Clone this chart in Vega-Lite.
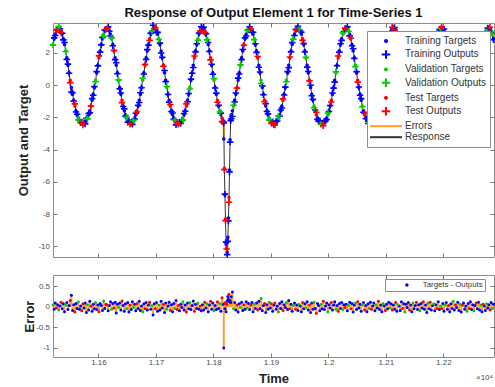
{
  "$schema": "https://vega.github.io/schema/vega-lite/v6.json",
  "padding": {"left": 16, "top": 6, "right": 0, "bottom": 0},
  "config": {
    "font": "Liberation Sans",
    "view": {"stroke": "#8c8c8c", "strokeWidth": 1},
    "axis": {
      "domain": false, "grid": false,
      "tickSize": -4, "tickColor": "#777777", "tickWidth": 1,
      "labelFontSize": 8, "labelColor": "#4d4d4d", "labelPadding": 7.5,
      "titleFontSize": 13, "titleFontWeight": "bold", "titleColor": "#222222", "titleBaseline": "alphabetic"
    }
  },
  "datasets": {
    "ts": [
      {"t":11521,"y":2.53,"o":2.49,"e":0.04,"s":"Va"},
      {"t":11523,"y":2.88,"o":2.94,"e":-0.06,"s":"Tr"},
      {"t":11525,"y":3.17,"o":3.08,"e":0.09,"s":"Tr"},
      {"t":11527,"y":3.38,"o":3.41,"e":-0.03,"s":"Te"},
      {"t":11529,"y":3.52,"o":3.47,"e":0.05,"s":"Tr"},
      {"t":11531,"y":3.56,"o":3.64,"e":-0.08,"s":"Va"},
      {"t":11533,"y":3.52,"o":3.50,"e":0.02,"s":"Tr"},
      {"t":11535,"y":3.38,"o":3.27,"e":0.11,"s":"Te"},
      {"t":11537,"y":3.17,"o":3.22,"e":-0.05,"s":"Tr"},
      {"t":11539,"y":2.88,"o":2.81,"e":0.07,"s":"Tr"},
      {"t":11541,"y":2.53,"o":2.65,"e":-0.12,"s":"Tr"},
      {"t":11543,"y":2.13,"o":2.09,"e":0.04,"s":"Va"},
      {"t":11545,"y":1.70,"o":1.60,"e":0.10,"s":"Tr"},
      {"t":11547,"y":1.24,"o":1.31,"e":-0.07,"s":"Tr"},
      {"t":11549,"y":0.77,"o":0.74,"e":0.03,"s":"Tr"},
      {"t":11551,"y":0.31,"o":0.16,"e":0.15,"s":"Te"},
      {"t":11553,"y":-0.14,"o":-0.42,"e":0.28,"s":"Tr"},
      {"t":11555,"y":-0.56,"o":-0.47,"e":-0.09,"s":"Tr"},
      {"t":11557,"y":-0.94,"o":-0.99,"e":0.05,"s":"Tr"},
      {"t":11559,"y":-1.29,"o":-1.16,"e":-0.13,"s":"Te"},
      {"t":11561,"y":-1.58,"o":-1.66,"e":0.08,"s":"Tr"},
      {"t":11563,"y":-1.84,"o":-1.80,"e":-0.04,"s":"Tr"},
      {"t":11565,"y":-2.04,"o":-2.16,"e":0.12,"s":"Va"},
      {"t":11567,"y":-2.20,"o":-2.14,"e":-0.06,"s":"Tr"},
      {"t":11569,"y":-2.31,"o":-2.33,"e":0.02,"s":"Tr"},
      {"t":11571,"y":-2.38,"o":-2.28,"e":-0.10,"s":"Te"},
      {"t":11573,"y":-2.40,"o":-2.47,"e":0.07,"s":"Te"},
      {"t":11575,"y":-2.38,"o":-2.35,"e":-0.03,"s":"Tr"},
      {"t":11577,"y":-2.31,"o":-2.40,"e":0.09,"s":"Tr"},
      {"t":11579,"y":-2.20,"o":-2.06,"e":-0.14,"s":"Tr"},
      {"t":11581,"y":-2.04,"o":-2.09,"e":0.05,"s":"Va"},
      {"t":11583,"y":-1.84,"o":-1.76,"e":-0.08,"s":"Tr"},
      {"t":11585,"y":-1.58,"o":-1.71,"e":0.13,"s":"Tr"},
      {"t":11587,"y":-1.29,"o":-1.30,"e":0.01,"s":"Te"},
      {"t":11589,"y":-0.94,"o":-0.83,"e":-0.11,"s":"Tr"},
      {"t":11591,"y":-0.56,"o":-0.62,"e":0.06,"s":"Tr"},
      {"t":11593,"y":-0.14,"o":-0.09,"e":-0.05,"s":"Tr"},
      {"t":11595,"y":0.31,"o":0.21,"e":0.10,"s":"Va"},
      {"t":11597,"y":0.77,"o":0.84,"e":-0.07,"s":"Tr"},
      {"t":11599,"y":1.24,"o":1.20,"e":0.04,"s":"Tr"},
      {"t":11601,"y":1.70,"o":1.82,"e":-0.12,"s":"Te"},
      {"t":11603,"y":2.13,"o":2.05,"e":0.08,"s":"Tr"},
      {"t":11605,"y":2.53,"o":2.50,"e":0.03,"s":"Tr"},
      {"t":11607,"y":2.88,"o":2.97,"e":-0.09,"s":"Tr"},
      {"t":11609,"y":3.17,"o":3.03,"e":0.14,"s":"Va"},
      {"t":11611,"y":3.38,"o":3.42,"e":-0.04,"s":"Tr"},
      {"t":11613,"y":3.52,"o":3.46,"e":0.06,"s":"Te"},
      {"t":11615,"y":3.56,"o":3.51,"e":0.05,"s":"Te"},
      {"t":11617,"y":3.52,"o":3.62,"e":-0.10,"s":"Tr"},
      {"t":11619,"y":3.38,"o":3.35,"e":0.03,"s":"Tr"},
      {"t":11621,"y":3.17,"o":3.05,"e":0.12,"s":"Tr"},
      {"t":11623,"y":2.88,"o":2.94,"e":-0.06,"s":"Va"},
      {"t":11625,"y":2.53,"o":2.45,"e":0.08,"s":"Tr"},
      {"t":11627,"y":2.13,"o":2.16,"e":-0.03,"s":"Te"},
      {"t":11629,"y":1.70,"o":1.59,"e":0.11,"s":"Tr"},
      {"t":11631,"y":1.24,"o":1.39,"e":-0.15,"s":"Tr"},
      {"t":11633,"y":0.77,"o":0.71,"e":0.06,"s":"Tr"},
      {"t":11635,"y":0.31,"o":0.33,"e":-0.02,"s":"Va"},
      {"t":11637,"y":-0.14,"o":-0.23,"e":0.09,"s":"Tr"},
      {"t":11639,"y":-0.56,"o":-0.48,"e":-0.08,"s":"Tr"},
      {"t":11641,"y":-0.94,"o":-1.08,"e":0.14,"s":"Te"},
      {"t":11643,"y":-1.29,"o":-1.32,"e":0.03,"s":"Tr"},
      {"t":11645,"y":-1.58,"o":-1.47,"e":-0.11,"s":"Tr"},
      {"t":11647,"y":-1.84,"o":-1.91,"e":0.07,"s":"Tr"},
      {"t":11649,"y":-2.04,"o":-1.99,"e":-0.05,"s":"Va"},
      {"t":11651,"y":-2.20,"o":-2.30,"e":0.10,"s":"Tr"},
      {"t":11653,"y":-2.31,"o":-2.18,"e":-0.13,"s":"Tr"},
      {"t":11655,"y":-2.38,"o":-2.42,"e":0.04,"s":"Te"},
      {"t":11657,"y":-2.38,"o":-2.31,"e":-0.07,"s":"Tr"},
      {"t":11659,"y":-2.31,"o":-2.43,"e":0.12,"s":"Tr"},
      {"t":11661,"y":-2.20,"o":-2.18,"e":-0.02,"s":"Va"},
      {"t":11663,"y":-2.04,"o":-2.10,"e":0.06,"s":"Tr"},
      {"t":11665,"y":-1.84,"o":-1.74,"e":-0.10,"s":"Tr"},
      {"t":11667,"y":-1.58,"o":-1.66,"e":0.08,"s":"Te"},
      {"t":11669,"y":-1.29,"o":-1.25,"e":-0.04,"s":"Tr"},
      {"t":11671,"y":-0.94,"o":-1.07,"e":0.13,"s":"Tr"},
      {"t":11673,"y":-0.56,"o":-0.47,"e":-0.09,"s":"Tr"},
      {"t":11675,"y":-0.14,"o":-0.16,"e":0.02,"s":"Tr"},
      {"t":11677,"y":0.31,"o":0.43,"e":-0.12,"s":"Va"},
      {"t":11679,"y":0.77,"o":0.70,"e":0.07,"s":"Tr"},
      {"t":11681,"y":1.24,"o":1.29,"e":-0.05,"s":"Te"},
      {"t":11683,"y":1.70,"o":1.60,"e":0.10,"s":"Tr"},
      {"t":11685,"y":2.13,"o":2.21,"e":-0.08,"s":"Tr"},
      {"t":11687,"y":2.53,"o":2.49,"e":0.04,"s":"Tr"},
      {"t":11689,"y":2.88,"o":2.77,"e":0.11,"s":"Te"},
      {"t":11691,"y":3.17,"o":3.23,"e":-0.06,"s":"Tr"},
      {"t":11693,"y":3.38,"o":3.35,"e":0.03,"s":"Va"},
      {"t":11695,"y":3.52,"o":3.72,"e":-0.20,"s":"Tr"},
      {"t":11697,"y":3.56,"o":3.49,"e":0.07,"s":"Tr"},
      {"t":11699,"y":3.52,"o":3.57,"e":-0.05,"s":"Te"},
      {"t":11701,"y":3.38,"o":3.28,"e":0.10,"s":"Tr"},
      {"t":11703,"y":3.17,"o":3.28,"e":-0.11,"s":"Tr"},
      {"t":11705,"y":2.88,"o":2.84,"e":0.04,"s":"Va"},
      {"t":11707,"y":2.53,"o":2.61,"e":-0.08,"s":"Tr"},
      {"t":11709,"y":2.13,"o":2.00,"e":0.13,"s":"Tr"},
      {"t":11711,"y":1.70,"o":1.73,"e":-0.03,"s":"Tr"},
      {"t":11713,"y":1.24,"o":1.18,"e":0.06,"s":"Te"},
      {"t":11715,"y":0.77,"o":0.91,"e":-0.14,"s":"Tr"},
      {"t":11717,"y":0.31,"o":0.22,"e":0.09,"s":"Tr"},
      {"t":11719,"y":-0.14,"o":-0.08,"e":-0.06,"s":"Va"},
      {"t":11721,"y":-0.56,"o":-0.58,"e":0.02,"s":"Tr"},
      {"t":11723,"y":-0.94,"o":-1.05,"e":0.11,"s":"Tr"},
      {"t":11725,"y":-1.29,"o":-1.20,"e":-0.09,"s":"Te"},
      {"t":11727,"y":-1.58,"o":-1.63,"e":0.05,"s":"Tr"},
      {"t":11729,"y":-1.84,"o":-1.72,"e":-0.12,"s":"Tr"},
      {"t":11731,"y":-2.04,"o":-2.12,"e":0.08,"s":"Tr"},
      {"t":11733,"y":-2.20,"o":-2.16,"e":-0.04,"s":"Va"},
      {"t":11735,"y":-2.31,"o":-2.46,"e":0.15,"s":"Tr"},
      {"t":11737,"y":-2.38,"o":-2.31,"e":-0.07,"s":"Te"},
      {"t":11739,"y":-2.40,"o":-2.43,"e":0.03,"s":"Te"},
      {"t":11741,"y":-2.38,"o":-2.28,"e":-0.10,"s":"Tr"},
      {"t":11743,"y":-2.31,"o":-2.37,"e":0.06,"s":"Tr"},
      {"t":11745,"y":-2.20,"o":-2.18,"e":-0.02,"s":"Tr"},
      {"t":11747,"y":-2.04,"o":-2.16,"e":0.12,"s":"Va"},
      {"t":11749,"y":-1.84,"o":-1.76,"e":-0.08,"s":"Tr"},
      {"t":11751,"y":-1.58,"o":-1.62,"e":0.04,"s":"Tr"},
      {"t":11753,"y":-1.29,"o":-1.16,"e":-0.13,"s":"Te"},
      {"t":11755,"y":-0.94,"o":-1.03,"e":0.09,"s":"Tr"},
      {"t":11757,"y":-0.56,"o":-0.51,"e":-0.05,"s":"Tr"},
      {"t":11759,"y":-0.14,"o":-0.24,"e":0.10,"s":"Va"},
      {"t":11761,"y":0.31,"o":0.38,"e":-0.07,"s":"Tr"},
      {"t":11763,"y":0.77,"o":0.74,"e":0.03,"s":"Tr"},
      {"t":11765,"y":1.24,"o":1.10,"e":0.14,"s":"Tr"},
      {"t":11767,"y":1.70,"o":1.81,"e":-0.11,"s":"Te"},
      {"t":11769,"y":2.13,"o":2.07,"e":0.06,"s":"Tr"},
      {"t":11771,"y":2.53,"o":2.57,"e":-0.04,"s":"Tr"},
      {"t":11773,"y":2.88,"o":2.79,"e":0.09,"s":"Va"},
      {"t":11775,"y":3.17,"o":3.23,"e":-0.06,"s":"Tr"},
      {"t":11777,"y":3.38,"o":3.36,"e":0.02,"s":"Te"},
      {"t":11779,"y":3.52,"o":3.62,"e":-0.10,"s":"Tr"},
      {"t":11781,"y":3.56,"o":3.51,"e":0.05,"s":"Tr"},
      {"t":11783,"y":3.52,"o":3.60,"e":-0.08,"s":"Tr"},
      {"t":11785,"y":3.38,"o":3.27,"e":0.11,"s":"Te"},
      {"t":11787,"y":3.17,"o":3.20,"e":-0.03,"s":"Tr"},
      {"t":11789,"y":2.88,"o":2.81,"e":0.07,"s":"Va"},
      {"t":11791,"y":2.53,"o":2.65,"e":-0.12,"s":"Tr"},
      {"t":11793,"y":2.13,"o":2.09,"e":0.04,"s":"Tr"},
      {"t":11795,"y":1.70,"o":1.57,"e":0.13,"s":"Te"},
      {"t":11797,"y":1.24,"o":1.30,"e":-0.06,"s":"Tr"},
      {"t":11799,"y":0.77,"o":0.68,"e":0.09,"s":"Tr"},
      {"t":11801,"y":0.31,"o":0.41,"e":-0.10,"s":"Va"},
      {"t":11803,"y":-0.14,"o":-0.17,"e":0.03,"s":"Tr"},
      {"t":11805,"y":-0.56,"o":-0.49,"e":-0.07,"s":"Tr"},
      {"t":11807,"y":-0.94,"o":-1.06,"e":0.12,"s":"Te"},
      {"t":11809,"y":-1.29,"o":-1.25,"e":-0.04,"s":"Tr"},
      {"t":11811,"y":-1.58,"o":-1.66,"e":0.08,"s":"Va"},
      {"t":11813,"y":-1.84,"o":-1.73,"e":-0.11,"s":"Tr"},
      {"t":11815,"y":-2.04,"o":-2.26,"e":0.22,"s":"Te"},
      {"t":11817,"y":-2.20,"o":-2.26,"e":0.06,"s":"Tr"},
      {"t":11818,"y":-3.34,"o":-2.34,"e":-1.00,"s":"Tr"},
      {"t":11819,"y":-5.16,"o":-5.24,"e":0.08,"s":"Te"},
      {"t":11820,"y":-6.81,"o":-6.76,"e":-0.05,"s":"Tr"},
      {"t":11821,"y":-8.30,"o":-8.40,"e":0.10,"s":"Te"},
      {"t":11822,"y":-9.86,"o":-9.74,"e":-0.12,"s":"Tr"},
      {"t":11823,"y":-10.10,"o":-10.16,"e":0.06,"s":"Te"},
      {"t":11824,"y":-10.37,"o":-10.51,"e":0.14,"s":"Tr"},
      {"t":11825,"y":-9.44,"o":-9.69,"e":0.25,"s":"Tr"},
      {"t":11826,"y":-8.24,"o":-8.42,"e":0.18,"s":"Tr"},
      {"t":11827,"y":-6.96,"o":-7.26,"e":0.30,"s":"Te"},
      {"t":11828,"y":-5.26,"o":-5.38,"e":0.12,"s":"Tr"},
      {"t":11829,"y":-3.38,"o":-3.53,"e":0.15,"s":"Tr"},
      {"t":11830,"y":-2.10,"o":-2.20,"e":0.10,"s":"Tr"},
      {"t":11831,"y":-1.84,"o":-2.08,"e":0.24,"s":"Tr"},
      {"t":11833,"y":-1.58,"o":-1.94,"e":0.36,"s":"Tr"},
      {"t":11835,"y":-1.29,"o":-1.24,"e":-0.05,"s":"Va"},
      {"t":11837,"y":-0.94,"o":-1.04,"e":0.10,"s":"Tr"},
      {"t":11839,"y":-0.56,"o":-0.48,"e":-0.08,"s":"Tr"},
      {"t":11841,"y":-0.14,"o":-0.18,"e":0.04,"s":"Te"},
      {"t":11843,"y":0.31,"o":0.44,"e":-0.13,"s":"Tr"},
      {"t":11845,"y":0.77,"o":0.70,"e":0.07,"s":"Tr"},
      {"t":11847,"y":1.24,"o":1.26,"e":-0.02,"s":"Va"},
      {"t":11849,"y":1.70,"o":1.59,"e":0.11,"s":"Tr"},
      {"t":11851,"y":2.13,"o":2.22,"e":-0.09,"s":"Tr"},
      {"t":11853,"y":2.53,"o":2.48,"e":0.05,"s":"Te"},
      {"t":11855,"y":2.88,"o":2.94,"e":-0.06,"s":"Tr"},
      {"t":11857,"y":3.17,"o":3.05,"e":0.12,"s":"Tr"},
      {"t":11859,"y":3.38,"o":3.41,"e":-0.03,"s":"Va"},
      {"t":11861,"y":3.52,"o":3.44,"e":0.08,"s":"Tr"},
      {"t":11863,"y":3.56,"o":3.63,"e":-0.07,"s":"Tr"},
      {"t":11865,"y":3.52,"o":3.48,"e":0.04,"s":"Te"},
      {"t":11867,"y":3.38,"o":3.28,"e":0.10,"s":"Tr"},
      {"t":11869,"y":3.17,"o":3.29,"e":-0.12,"s":"Tr"},
      {"t":11871,"y":2.88,"o":2.82,"e":0.06,"s":"Va"},
      {"t":11873,"y":2.53,"o":2.57,"e":-0.04,"s":"Tr"},
      {"t":11875,"y":2.13,"o":2.04,"e":0.09,"s":"Tr"},
      {"t":11877,"y":1.70,"o":1.78,"e":-0.08,"s":"Te"},
      {"t":11879,"y":1.24,"o":1.11,"e":0.13,"s":"Tr"},
      {"t":11881,"y":0.77,"o":0.82,"e":-0.05,"s":"Tr"},
      {"t":11883,"y":0.31,"o":0.11,"e":0.20,"s":"Va"},
      {"t":11885,"y":-0.14,"o":-0.04,"e":-0.10,"s":"Tr"},
      {"t":11887,"y":-0.56,"o":-0.59,"e":0.03,"s":"Tr"},
      {"t":11889,"y":-0.94,"o":-1.02,"e":0.08,"s":"Te"},
      {"t":11891,"y":-1.29,"o":-1.15,"e":-0.14,"s":"Tr"},
      {"t":11893,"y":-1.58,"o":-1.63,"e":0.05,"s":"Tr"},
      {"t":11895,"y":-1.84,"o":-1.78,"e":-0.06,"s":"Tr"},
      {"t":11897,"y":-2.04,"o":-2.15,"e":0.11,"s":"Va"},
      {"t":11899,"y":-2.20,"o":-2.17,"e":-0.03,"s":"Tr"},
      {"t":11901,"y":-2.31,"o":-2.38,"e":0.07,"s":"Te"},
      {"t":11903,"y":-2.38,"o":-2.27,"e":-0.11,"s":"Tr"},
      {"t":11905,"y":-2.40,"o":-2.44,"e":0.04,"s":"Tr"},
      {"t":11907,"y":-2.38,"o":-2.47,"e":0.09,"s":"Te"},
      {"t":11909,"y":-2.31,"o":-2.25,"e":-0.06,"s":"Tr"},
      {"t":11911,"y":-2.20,"o":-2.22,"e":0.02,"s":"Tr"},
      {"t":11913,"y":-2.04,"o":-1.91,"e":-0.13,"s":"Va"},
      {"t":11915,"y":-1.84,"o":-1.92,"e":0.08,"s":"Tr"},
      {"t":11917,"y":-1.58,"o":-1.54,"e":-0.04,"s":"Tr"},
      {"t":11919,"y":-1.29,"o":-1.41,"e":0.12,"s":"Tr"},
      {"t":11921,"y":-0.94,"o":-0.85,"e":-0.09,"s":"Te"},
      {"t":11923,"y":-0.56,"o":-0.61,"e":0.05,"s":"Tr"},
      {"t":11925,"y":-0.14,"o":-0.12,"e":-0.02,"s":"Tr"},
      {"t":11927,"y":0.31,"o":0.21,"e":0.10,"s":"Va"},
      {"t":11929,"y":0.77,"o":0.84,"e":-0.07,"s":"Tr"},
      {"t":11931,"y":1.24,"o":1.09,"e":0.15,"s":"Tr"},
      {"t":11933,"y":1.70,"o":1.75,"e":-0.05,"s":"Te"},
      {"t":11935,"y":2.13,"o":2.07,"e":0.06,"s":"Tr"},
      {"t":11937,"y":2.53,"o":2.64,"e":-0.11,"s":"Tr"},
      {"t":11939,"y":2.88,"o":2.85,"e":0.03,"s":"Va"},
      {"t":11941,"y":3.17,"o":3.08,"e":0.09,"s":"Tr"},
      {"t":11943,"y":3.38,"o":3.44,"e":-0.06,"s":"Te"},
      {"t":11945,"y":3.52,"o":3.48,"e":0.04,"s":"Tr"},
      {"t":11947,"y":3.56,"o":3.65,"e":-0.09,"s":"Tr"},
      {"t":11949,"y":3.52,"o":3.46,"e":0.06,"s":"Va"},
      {"t":11951,"y":3.38,"o":3.36,"e":0.02,"s":"Tr"},
      {"t":11953,"y":3.17,"o":3.29,"e":-0.12,"s":"Tr"},
      {"t":11955,"y":2.88,"o":2.78,"e":0.10,"s":"Te"},
      {"t":11957,"y":2.53,"o":2.58,"e":-0.05,"s":"Tr"},
      {"t":11959,"y":2.13,"o":2.06,"e":0.07,"s":"Tr"},
      {"t":11961,"y":1.70,"o":1.73,"e":-0.03,"s":"Va"},
      {"t":11963,"y":1.24,"o":1.12,"e":0.12,"s":"Tr"},
      {"t":11965,"y":0.77,"o":0.85,"e":-0.08,"s":"Tr"},
      {"t":11967,"y":0.31,"o":0.27,"e":0.04,"s":"Te"},
      {"t":11969,"y":-0.14,"o":0.00,"e":-0.14,"s":"Tr"},
      {"t":11971,"y":-0.56,"o":-0.65,"e":0.09,"s":"Tr"},
      {"t":11973,"y":-0.94,"o":-0.88,"e":-0.06,"s":"Tr"},
      {"t":11975,"y":-1.29,"o":-1.40,"e":0.11,"s":"Va"},
      {"t":11977,"y":-1.58,"o":-1.54,"e":-0.04,"s":"Tr"},
      {"t":11979,"y":-1.84,"o":-1.68,"e":-0.16,"s":"Te"},
      {"t":11981,"y":-2.04,"o":-2.12,"e":0.08,"s":"Tr"},
      {"t":11983,"y":-2.20,"o":-2.23,"e":0.03,"s":"Tr"},
      {"t":11985,"y":-2.31,"o":-2.21,"e":-0.10,"s":"Tr"},
      {"t":11987,"y":-2.38,"o":-2.44,"e":0.06,"s":"Va"},
      {"t":11989,"y":-2.40,"o":-2.35,"e":-0.05,"s":"Tr"},
      {"t":11991,"y":-2.38,"o":-2.51,"e":0.13,"s":"Te"},
      {"t":11993,"y":-2.31,"o":-2.24,"e":-0.07,"s":"Tr"},
      {"t":11995,"y":-2.20,"o":-2.22,"e":0.02,"s":"Tr"},
      {"t":11997,"y":-2.04,"o":-2.13,"e":0.09,"s":"Tr"},
      {"t":11999,"y":-1.84,"o":-1.72,"e":-0.12,"s":"Va"},
      {"t":12001,"y":-1.58,"o":-1.63,"e":0.05,"s":"Tr"},
      {"t":12003,"y":-1.29,"o":-1.26,"e":-0.03,"s":"Tr"},
      {"t":12005,"y":-0.94,"o":-1.04,"e":0.10,"s":"Te"},
      {"t":12007,"y":-0.56,"o":-0.48,"e":-0.08,"s":"Tr"},
      {"t":12009,"y":-0.14,"o":-0.18,"e":0.04,"s":"Tr"},
      {"t":12011,"y":0.31,"o":0.19,"e":0.12,"s":"Tr"},
      {"t":12013,"y":0.77,"o":0.83,"e":-0.06,"s":"Va"},
      {"t":12015,"y":1.24,"o":1.21,"e":0.03,"s":"Tr"},
      {"t":12017,"y":1.70,"o":1.81,"e":-0.11,"s":"Te"},
      {"t":12019,"y":2.13,"o":2.05,"e":0.08,"s":"Tr"},
      {"t":12021,"y":2.53,"o":2.57,"e":-0.04,"s":"Tr"},
      {"t":12023,"y":2.88,"o":2.78,"e":0.10,"s":"Tr"},
      {"t":12025,"y":3.17,"o":3.24,"e":-0.07,"s":"Va"},
      {"t":12027,"y":3.38,"o":3.33,"e":0.05,"s":"Tr"},
      {"t":12029,"y":3.52,"o":3.54,"e":-0.02,"s":"Te"},
      {"t":12031,"y":3.56,"o":3.50,"e":0.06,"s":"Tr"},
      {"t":12033,"y":3.52,"o":3.62,"e":-0.10,"s":"Tr"},
      {"t":12035,"y":3.38,"o":3.35,"e":0.03,"s":"Va"},
      {"t":12037,"y":3.17,"o":3.06,"e":0.11,"s":"Tr"},
      {"t":12039,"y":2.88,"o":2.93,"e":-0.05,"s":"Te"},
      {"t":12041,"y":2.53,"o":2.45,"e":0.08,"s":"Tr"},
      {"t":12043,"y":2.13,"o":2.26,"e":-0.13,"s":"Tr"},
      {"t":12045,"y":1.70,"o":1.66,"e":0.04,"s":"Tr"},
      {"t":12047,"y":1.24,"o":1.15,"e":0.09,"s":"Va"},
      {"t":12049,"y":0.77,"o":0.84,"e":-0.07,"s":"Tr"},
      {"t":12051,"y":0.31,"o":0.19,"e":0.12,"s":"Te"},
      {"t":12053,"y":-0.14,"o":-0.11,"e":-0.03,"s":"Tr"},
      {"t":12055,"y":-0.56,"o":-0.62,"e":0.06,"s":"Tr"},
      {"t":12057,"y":-0.94,"o":-0.83,"e":-0.11,"s":"Tr"},
      {"t":12059,"y":-1.29,"o":-1.34,"e":0.05,"s":"Va"},
      {"t":12061,"y":-1.58,"o":-1.68,"e":0.10,"s":"Tr"},
      {"t":12063,"y":-1.84,"o":-1.76,"e":-0.08,"s":"Te"},
      {"t":12065,"y":-2.04,"o":-2.07,"e":0.03,"s":"Tr"},
      {"t":12067,"y":-2.20,"o":-2.08,"e":-0.12,"s":"Tr"},
      {"t":12069,"y":-2.31,"o":-2.38,"e":0.07,"s":"Tr"},
      {"t":12071,"y":-2.38,"o":-2.34,"e":-0.04,"s":"Va"},
      {"t":12073,"y":-2.38,"o":-2.49,"e":0.11,"s":"Tr"},
      {"t":12075,"y":-2.31,"o":-2.25,"e":-0.06,"s":"Te"},
      {"t":12077,"y":-2.20,"o":-2.22,"e":0.02,"s":"Tr"},
      {"t":12079,"y":-2.04,"o":-2.13,"e":0.09,"s":"Tr"},
      {"t":12081,"y":-1.84,"o":-1.74,"e":-0.10,"s":"Tr"},
      {"t":12083,"y":-1.58,"o":-1.63,"e":0.05,"s":"Va"},
      {"t":12085,"y":-1.29,"o":-1.26,"e":-0.03,"s":"Tr"},
      {"t":12087,"y":-0.94,"o":-1.07,"e":0.13,"s":"Te"},
      {"t":12089,"y":-0.56,"o":-0.49,"e":-0.07,"s":"Tr"},
      {"t":12091,"y":-0.14,"o":-0.18,"e":0.04,"s":"Tr"},
      {"t":12093,"y":0.31,"o":0.43,"e":-0.12,"s":"Tr"},
      {"t":12095,"y":0.77,"o":0.69,"e":0.08,"s":"Va"},
      {"t":12097,"y":1.24,"o":1.22,"e":0.02,"s":"Tr"},
      {"t":12099,"y":1.70,"o":1.79,"e":-0.09,"s":"Te"},
      {"t":12101,"y":2.13,"o":2.07,"e":0.06,"s":"Tr"},
      {"t":12103,"y":2.53,"o":2.58,"e":-0.05,"s":"Tr"},
      {"t":12105,"y":2.88,"o":2.77,"e":0.11,"s":"Tr"},
      {"t":12107,"y":3.17,"o":3.20,"e":-0.03,"s":"Va"},
      {"t":12109,"y":3.38,"o":3.31,"e":0.07,"s":"Tr"},
      {"t":12111,"y":3.52,"o":3.60,"e":-0.08,"s":"Te"},
      {"t":12113,"y":3.56,"o":3.52,"e":0.04,"s":"Tr"},
      {"t":12115,"y":3.52,"o":3.58,"e":-0.06,"s":"Tr"},
      {"t":12117,"y":3.38,"o":3.28,"e":0.10,"s":"Te"},
      {"t":12119,"y":3.17,"o":3.28,"e":-0.11,"s":"Tr"},
      {"t":12121,"y":2.88,"o":2.83,"e":0.05,"s":"Va"},
      {"t":12123,"y":2.53,"o":2.51,"e":0.02,"s":"Tr"},
      {"t":12125,"y":2.13,"o":2.22,"e":-0.09,"s":"Tr"},
      {"t":12127,"y":1.70,"o":1.58,"e":0.12,"s":"Tr"},
      {"t":12129,"y":1.24,"o":1.28,"e":-0.04,"s":"Te"},
      {"t":12131,"y":0.77,"o":0.70,"e":0.07,"s":"Tr"},
      {"t":12133,"y":0.31,"o":0.44,"e":-0.13,"s":"Va"},
      {"t":12135,"y":-0.14,"o":-0.20,"e":0.06,"s":"Tr"},
      {"t":12137,"y":-0.56,"o":-0.54,"e":-0.02,"s":"Tr"},
      {"t":12139,"y":-0.94,"o":-1.04,"e":0.10,"s":"Tr"},
      {"t":12141,"y":-1.29,"o":-1.21,"e":-0.08,"s":"Te"},
      {"t":12143,"y":-1.58,"o":-1.62,"e":0.04,"s":"Tr"},
      {"t":12145,"y":-1.84,"o":-1.72,"e":-0.12,"s":"Tr"},
      {"t":12147,"y":-2.04,"o":-2.13,"e":0.09,"s":"Va"},
      {"t":12149,"y":-2.20,"o":-2.15,"e":-0.05,"s":"Tr"},
      {"t":12151,"y":-2.31,"o":-2.34,"e":0.03,"s":"Tr"},
      {"t":12153,"y":-2.38,"o":-2.49,"e":0.11,"s":"Te"},
      {"t":12155,"y":-2.40,"o":-2.33,"e":-0.07,"s":"Tr"},
      {"t":12157,"y":-2.38,"o":-2.43,"e":0.05,"s":"Tr"},
      {"t":12159,"y":-2.31,"o":-2.21,"e":-0.10,"s":"Va"},
      {"t":12161,"y":-2.20,"o":-2.28,"e":0.08,"s":"Tr"},
      {"t":12163,"y":-2.04,"o":-2.01,"e":-0.03,"s":"Tr"},
      {"t":12165,"y":-1.84,"o":-1.96,"e":0.12,"s":"Te"},
      {"t":12167,"y":-1.58,"o":-1.52,"e":-0.06,"s":"Tr"},
      {"t":12169,"y":-1.29,"o":-1.33,"e":0.04,"s":"Tr"},
      {"t":12171,"y":-0.94,"o":-0.80,"e":-0.14,"s":"Tr"},
      {"t":12173,"y":-0.56,"o":-0.65,"e":0.09,"s":"Va"},
      {"t":12175,"y":-0.14,"o":-0.09,"e":-0.05,"s":"Tr"},
      {"t":12177,"y":0.31,"o":0.20,"e":0.11,"s":"Te"},
      {"t":12179,"y":0.77,"o":0.85,"e":-0.08,"s":"Tr"},
      {"t":12181,"y":1.24,"o":1.21,"e":0.03,"s":"Tr"},
      {"t":12183,"y":1.70,"o":1.63,"e":0.07,"s":"Va"},
      {"t":12185,"y":2.13,"o":2.23,"e":-0.10,"s":"Tr"},
      {"t":12187,"y":2.53,"o":2.48,"e":0.05,"s":"Tr"},
      {"t":12189,"y":2.88,"o":2.92,"e":-0.04,"s":"Te"},
      {"t":12191,"y":3.17,"o":3.05,"e":0.12,"s":"Tr"},
      {"t":12193,"y":3.38,"o":3.45,"e":-0.07,"s":"Tr"},
      {"t":12195,"y":3.52,"o":3.50,"e":0.02,"s":"Va"},
      {"t":12197,"y":3.56,"o":3.61,"e":-0.05,"s":"Te"},
      {"t":12199,"y":3.52,"o":3.44,"e":0.08,"s":"Tr"},
      {"t":12201,"y":3.38,"o":3.49,"e":-0.11,"s":"Tr"},
      {"t":12203,"y":3.17,"o":3.13,"e":0.04,"s":"Va"},
      {"t":12205,"y":2.88,"o":2.78,"e":0.10,"s":"Tr"},
      {"t":12207,"y":2.53,"o":2.59,"e":-0.06,"s":"Tr"},
      {"t":12209,"y":2.13,"o":2.10,"e":0.03,"s":"Te"},
      {"t":12211,"y":1.70,"o":1.82,"e":-0.12,"s":"Tr"},
      {"t":12213,"y":1.24,"o":1.17,"e":0.07,"s":"Tr"},
      {"t":12215,"y":0.77,"o":0.81,"e":-0.04,"s":"Tr"},
      {"t":12217,"y":0.31,"o":0.18,"e":0.13,"s":"Va"},
      {"t":12219,"y":-0.14,"o":-0.06,"e":-0.08,"s":"Tr"},
      {"t":12221,"y":-0.56,"o":-0.61,"e":0.05,"s":"Te"},
      {"t":12223,"y":-0.94,"o":-0.92,"e":-0.02,"s":"Tr"},
      {"t":12225,"y":-1.29,"o":-1.40,"e":0.11,"s":"Tr"},
      {"t":12227,"y":-1.58,"o":-1.49,"e":-0.09,"s":"Tr"},
      {"t":12229,"y":-1.84,"o":-1.90,"e":0.06,"s":"Va"},
      {"t":12231,"y":-2.04,"o":-1.91,"e":-0.13,"s":"Tr"},
      {"t":12233,"y":-2.20,"o":-2.24,"e":0.04,"s":"Te"},
      {"t":12235,"y":-2.31,"o":-2.40,"e":0.09,"s":"Tr"},
      {"t":12237,"y":-2.38,"o":-2.32,"e":-0.06,"s":"Tr"},
      {"t":12239,"y":-2.38,"o":-2.40,"e":0.02,"s":"Tr"},
      {"t":12241,"y":-2.31,"o":-2.20,"e":-0.11,"s":"Va"},
      {"t":12243,"y":-2.20,"o":-2.28,"e":0.08,"s":"Tr"},
      {"t":12245,"y":-2.04,"o":-2.00,"e":-0.04,"s":"Te"},
      {"t":12247,"y":-1.84,"o":-1.96,"e":0.12,"s":"Tr"},
      {"t":12249,"y":-1.58,"o":-1.51,"e":-0.07,"s":"Tr"},
      {"t":12251,"y":-1.29,"o":-1.34,"e":0.05,"s":"Tr"},
      {"t":12253,"y":-0.94,"o":-0.84,"e":-0.10,"s":"Va"},
      {"t":12255,"y":-0.56,"o":-0.59,"e":0.03,"s":"Tr"},
      {"t":12257,"y":-0.14,"o":-0.23,"e":0.09,"s":"Te"},
      {"t":12259,"y":0.31,"o":0.36,"e":-0.05,"s":"Tr"},
      {"t":12261,"y":0.77,"o":0.66,"e":0.11,"s":"Tr"},
      {"t":12263,"y":1.24,"o":1.32,"e":-0.08,"s":"Tr"},
      {"t":12265,"y":1.70,"o":1.66,"e":0.04,"s":"Va"},
      {"t":12267,"y":2.13,"o":2.25,"e":-0.12,"s":"Tr"},
      {"t":12269,"y":2.53,"o":2.47,"e":0.06,"s":"Te"},
      {"t":12271,"y":2.88,"o":2.86,"e":0.02,"s":"Tr"},
      {"t":12273,"y":3.17,"o":3.26,"e":-0.09,"s":"Tr"},
      {"t":12275,"y":3.38,"o":3.31,"e":0.07,"s":"Va"},
      {"t":12277,"y":3.52,"o":3.55,"e":-0.03,"s":"Tr"},
      {"t":12279,"y":3.56,"o":3.51,"e":0.05,"s":"Tr"},
      {"t":12281,"y":3.52,"o":3.60,"e":-0.08,"s":"Te"},
      {"t":12283,"y":3.38,"o":3.28,"e":0.10,"s":"Tr"},
      {"t":12285,"y":3.17,"o":3.21,"e":-0.04,"s":"Va"},
      {"t":12287,"y":2.88,"o":2.82,"e":0.06,"s":"Tr"}
    ]
  },
  "vconcat": [
    {
      "width": 441,
      "height": 234,
      "title": {
        "text": "Response of Output Element 1 for Time-Series 1",
        "fontSize": 13, "fontWeight": "bold", "color": "#111111",
        "anchor": "middle", "frame": "group", "offset": -1
      },
      "data": {"name": "ts"},
      "encoding": {
        "x": {"field": "t", "type": "quantitative", "scale": {"domain": [11521, 12288], "nice": false, "zero": false}, "axis": null},
        "y": {"field": "y", "type": "quantitative", "scale": {"domain": [-10.66, 3.86], "nice": false, "zero": false}, "axis": null},
        "color": {
          "field": "s", "type": "nominal",
          "scale": {
            "domain": ["Tr", "TrO", "Va", "VaO", "Te", "TeO", "Err", "Resp"],
            "range": ["#0000ff", "#0000ff", "#00cc00", "#00cc00", "#ff0000", "#ff0000", "#ff9f2a", "#333333"]
          },
          "legend": {
            "orient": "none", "legendX": 314, "legendY": 8, "title": null,
            "labelExpr": "datum.label == 'Tr' ? 'Training Targets' : datum.label == 'TrO' ? 'Training Outputs' : datum.label == 'Va' ? 'Validation Targets' : datum.label == 'VaO' ? 'Validation Outputs' : datum.label == 'Te' ? 'Test Targets' : datum.label == 'TeO' ? 'Test Outputs' : datum.label == 'Err' ? 'Errors' : 'Response'",
            "labelFontSize": 10, "labelColor": "#333333",
            "symbolSize": 100, "symbolStrokeWidth": 2, "symbolOffset": 9, "labelOffset": 13,
            "padding": 4, "rowPadding": -0.6,
            "fillColor": "white", "strokeColor": "#8c8c8c", "zindex": 1
          }
        }
      },
      "layer": [
        {
          "mark": {"type": "rule", "strokeWidth": 2},
          "encoding": {
            "x": {"field": "t", "type": "quantitative", "scale": {"domain": [11521, 12288], "nice": false, "zero": false},
                  "axis": {"orient": "top", "labels": false, "title": null, "values": [11600, 11700, 11800, 11900, 12000, 12100, 12200]}},
            "y": {"field": "y", "type": "quantitative", "scale": {"domain": [-10.66, 3.86], "nice": false, "zero": false},
                  "axis": {"orient": "right", "labels": false, "title": null, "values": [-10, -8, -6, -4, -2, 0, 2]}},
            "y2": {"field": "o"},
            "color": {"value": "#ff9f2a"}
          }
        },
        {
          "mark": {"type": "line", "strokeWidth": 1},
          "encoding": {
            "x": {"field": "t", "type": "quantitative", "scale": {"domain": [11521, 12288], "nice": false, "zero": false},
                  "axis": {"orient": "bottom", "labels": false, "title": null, "values": [11600, 11700, 11800, 11900, 12000, 12100, 12200]}},
            "y": {"field": "o", "type": "quantitative", "scale": {"domain": [-10.66, 3.86], "nice": false, "zero": false},
                  "axis": {"orient": "left", "title": "Output and Target", "titleX": -26, "values": [-10, -8, -6, -4, -2, 0, 2], "labelExpr": "'' + datum.value"}},
            "color": {"value": "#333333"}
          }
        },
        {
          "transform": [{"filter": {"field": "s", "equal": "Tr"}}],
          "mark": {"type": "point", "filled": false, "strokeWidth": 1.5, "size": 100, "opacity": 1},
          "encoding": {
            "shape": {
              "field": "s", "type": "nominal",
              "scale": {
                "domain": ["Tr", "TrO", "Va", "VaO", "Te", "TeO", "Err", "Resp"],
                "range": [
                  "M0,-0.2A0.2,0.2,0,1,1,0,0.2A0.2,0.2,0,1,1,0,-0.2",
                  "M-0.85,0H0.85M0,-0.85V0.85",
                  "M0,-0.2A0.2,0.2,0,1,1,0,0.2A0.2,0.2,0,1,1,0,-0.2",
                  "M-0.85,0H0.85M0,-0.85V0.85",
                  "M0,-0.2A0.2,0.2,0,1,1,0,0.2A0.2,0.2,0,1,1,0,-0.2",
                  "M-0.85,0H0.85M0,-0.85V0.85",
                  "M-3.2,0H3.2",
                  "M-3.2,0H3.2"
                ]
              },
              "legend": {
                "orient": "none", "legendX": 314, "legendY": 8, "title": null,
                "labelExpr": "datum.label == 'Tr' ? 'Training Targets' : datum.label == 'TrO' ? 'Training Outputs' : datum.label == 'Va' ? 'Validation Targets' : datum.label == 'VaO' ? 'Validation Outputs' : datum.label == 'Te' ? 'Test Targets' : datum.label == 'TeO' ? 'Test Outputs' : datum.label == 'Err' ? 'Errors' : 'Response'",
                "labelFontSize": 10, "labelColor": "#333333",
                "symbolSize": 100, "symbolStrokeWidth": 2, "symbolOffset": 9, "labelOffset": 13,
                "padding": 4, "rowPadding": -0.6,
                "fillColor": "white", "strokeColor": "#8c8c8c", "zindex": 1
              }
            }
          }
        },
        {
          "transform": [{"filter": {"field": "s", "equal": "Tr"}}],
          "mark": {"type": "point", "filled": false, "strokeWidth": 1.6, "size": 100, "opacity": 1, "shape": "M-0.65,0H0.65M0,-0.65V0.65"},
          "encoding": {
            "y": {"field": "o", "type": "quantitative", "scale": {"domain": [-10.66, 3.86], "nice": false, "zero": false}, "axis": null}
          }
        },
        {
          "transform": [{"filter": {"field": "s", "equal": "Va"}}],
          "mark": {"type": "point", "filled": false, "strokeWidth": 1.5, "size": 100, "opacity": 1},
          "encoding": {
            "shape": {
              "field": "s", "type": "nominal",
              "scale": {
                "domain": ["Tr", "TrO", "Va", "VaO", "Te", "TeO", "Err", "Resp"],
                "range": [
                  "M0,-0.2A0.2,0.2,0,1,1,0,0.2A0.2,0.2,0,1,1,0,-0.2",
                  "M-0.85,0H0.85M0,-0.85V0.85",
                  "M0,-0.2A0.2,0.2,0,1,1,0,0.2A0.2,0.2,0,1,1,0,-0.2",
                  "M-0.85,0H0.85M0,-0.85V0.85",
                  "M0,-0.2A0.2,0.2,0,1,1,0,0.2A0.2,0.2,0,1,1,0,-0.2",
                  "M-0.85,0H0.85M0,-0.85V0.85",
                  "M-3.2,0H3.2",
                  "M-3.2,0H3.2"
                ]
              },
              "legend": {
                "orient": "none", "legendX": 314, "legendY": 8, "title": null,
                "labelExpr": "datum.label == 'Tr' ? 'Training Targets' : datum.label == 'TrO' ? 'Training Outputs' : datum.label == 'Va' ? 'Validation Targets' : datum.label == 'VaO' ? 'Validation Outputs' : datum.label == 'Te' ? 'Test Targets' : datum.label == 'TeO' ? 'Test Outputs' : datum.label == 'Err' ? 'Errors' : 'Response'",
                "labelFontSize": 10, "labelColor": "#333333",
                "symbolSize": 100, "symbolStrokeWidth": 2, "symbolOffset": 9, "labelOffset": 13,
                "padding": 4, "rowPadding": -0.6,
                "fillColor": "white", "strokeColor": "#8c8c8c", "zindex": 1
              }
            }
          }
        },
        {
          "transform": [{"filter": {"field": "s", "equal": "Va"}}],
          "mark": {"type": "point", "filled": false, "strokeWidth": 1.6, "size": 100, "opacity": 1, "shape": "M-0.65,0H0.65M0,-0.65V0.65"},
          "encoding": {
            "y": {"field": "o", "type": "quantitative", "scale": {"domain": [-10.66, 3.86], "nice": false, "zero": false}, "axis": null}
          }
        },
        {
          "transform": [{"filter": {"field": "s", "equal": "Te"}}],
          "mark": {"type": "point", "filled": false, "strokeWidth": 1.5, "size": 100, "opacity": 1},
          "encoding": {
            "shape": {
              "field": "s", "type": "nominal",
              "scale": {
                "domain": ["Tr", "TrO", "Va", "VaO", "Te", "TeO", "Err", "Resp"],
                "range": [
                  "M0,-0.2A0.2,0.2,0,1,1,0,0.2A0.2,0.2,0,1,1,0,-0.2",
                  "M-0.85,0H0.85M0,-0.85V0.85",
                  "M0,-0.2A0.2,0.2,0,1,1,0,0.2A0.2,0.2,0,1,1,0,-0.2",
                  "M-0.85,0H0.85M0,-0.85V0.85",
                  "M0,-0.2A0.2,0.2,0,1,1,0,0.2A0.2,0.2,0,1,1,0,-0.2",
                  "M-0.85,0H0.85M0,-0.85V0.85",
                  "M-3.2,0H3.2",
                  "M-3.2,0H3.2"
                ]
              },
              "legend": {
                "orient": "none", "legendX": 314, "legendY": 8, "title": null,
                "labelExpr": "datum.label == 'Tr' ? 'Training Targets' : datum.label == 'TrO' ? 'Training Outputs' : datum.label == 'Va' ? 'Validation Targets' : datum.label == 'VaO' ? 'Validation Outputs' : datum.label == 'Te' ? 'Test Targets' : datum.label == 'TeO' ? 'Test Outputs' : datum.label == 'Err' ? 'Errors' : 'Response'",
                "labelFontSize": 10, "labelColor": "#333333",
                "symbolSize": 100, "symbolStrokeWidth": 2, "symbolOffset": 9, "labelOffset": 13,
                "padding": 4, "rowPadding": -0.6,
                "fillColor": "white", "strokeColor": "#8c8c8c", "zindex": 1
              }
            }
          }
        },
        {
          "transform": [{"filter": {"field": "s", "equal": "Te"}}],
          "mark": {"type": "point", "filled": false, "strokeWidth": 1.6, "size": 100, "opacity": 1, "shape": "M-0.65,0H0.65M0,-0.65V0.65"},
          "encoding": {
            "y": {"field": "o", "type": "quantitative", "scale": {"domain": [-10.66, 3.86], "nice": false, "zero": false}, "axis": null}
          }
        }
      ],
      "resolve": {"axis": {"x": "independent", "y": "independent"}}
    },
    {
      "width": 441,
      "height": 82,
      "title": {
        "text": "×10⁴", "orient": "bottom", "anchor": "end", "frame": "group",
        "fontSize": 8, "fontWeight": "normal", "color": "#4d4d4d",
        "baseline": "alphabetic", "offset": -5, "dx": -1
      },
      "data": {"name": "ts"},
      "encoding": {
        "x": {"field": "t", "type": "quantitative", "scale": {"domain": [11521, 12288], "nice": false, "zero": false}, "axis": null},
        "y": {"field": "e", "type": "quantitative", "scale": {"domain": [-1.22, 0.77], "nice": false, "zero": false}, "axis": null},
        "color": {
          "field": "s", "type": "nominal",
          "scale": {"domain": ["Tr", "Va", "Te"], "range": ["#0000ff", "#00cc00", "#ff0000"]},
          "legend": {
            "orient": "none", "legendX": 332, "legendY": 4, "title": null,
            "values": ["Tr"], "labelExpr": "'Targets - Outputs'",
            "labelFontSize": 7.8, "labelColor": "#333333",
            "symbolType": "circle", "symbolSize": 12, "symbolOffset": 16, "labelOffset": 12,
            "padding": 2, "fillColor": "white", "strokeColor": "#8c8c8c", "zindex": 1
          }
        }
      },
      "layer": [
        {
          "mark": {"type": "rule", "strokeWidth": 2},
          "encoding": {
            "x": {"field": "t", "type": "quantitative", "scale": {"domain": [11521, 12288], "nice": false, "zero": false},
                  "axis": {"orient": "bottom", "title": "Time", "titleY": 25, "labelPadding": 5.5, "values": [11600, 11700, 11800, 11900, 12000, 12100, 12200], "labelExpr": "'' + datum.value / 10000"}},
            "y": {"field": "e", "type": "quantitative", "scale": {"domain": [-1.22, 0.77], "nice": false, "zero": false},
                  "axis": {"orient": "left", "title": "Error", "titleX": -20, "values": [-1, -0.5, 0, 0.5], "labelExpr": "'' + datum.value"}},
            "y2": {"datum": 0},
            "color": {"value": "#ff9f2a"}
          }
        },
        {
          "transform": [{"filter": {"field": "s", "equal": "Tr"}}],
          "mark": {"type": "point", "shape": "circle", "filled": true, "size": 9, "opacity": 1},
          "encoding": {
            "x": {"field": "t", "type": "quantitative", "scale": {"domain": [11521, 12288], "nice": false, "zero": false},
                  "axis": {"orient": "top", "labels": false, "title": null, "values": [11600, 11700, 11800, 11900, 12000, 12100, 12200]}},
            "y": {"field": "e", "type": "quantitative", "scale": {"domain": [-1.22, 0.77], "nice": false, "zero": false},
                  "axis": {"orient": "right", "labels": false, "title": null, "values": [-1, -0.5, 0, 0.5]}}
          }
        },
        {
          "transform": [{"filter": {"field": "s", "equal": "Va"}}],
          "mark": {"type": "point", "shape": "circle", "filled": true, "size": 9, "opacity": 1}
        },
        {
          "transform": [{"filter": {"field": "s", "equal": "Te"}}],
          "mark": {"type": "point", "shape": "circle", "filled": true, "size": 9, "opacity": 1}
        }
      ],
      "resolve": {"axis": {"x": "independent", "y": "independent"}}
    }
  ],
  "spacing": 18,
  "bounds": "flush",
  "resolve": {"scale": {"x": "independent", "y": "independent", "color": "independent", "shape": "independent"}}
}
